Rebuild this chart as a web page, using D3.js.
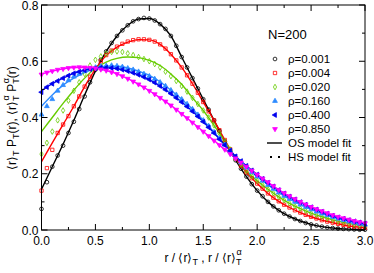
<!DOCTYPE html>
<html><head><meta charset="utf-8">
<script src="https://cdn.jsdelivr.net/npm/d3@7"></script>
<style>body{margin:0;background:#fff;} text{font-family:"Liberation Sans",Arial,sans-serif;}</style>
</head><body><svg id="c" width="374" height="273"></svg>
<script>
const xTicks = [0.0,0.5,1.0,1.5,2.0,2.5,3.0];
const yTicks = [0.0,0.2,0.4,0.6,0.8];
const seriesNames = ["ρ=0.001","ρ=0.004","ρ=0.020","ρ=0.160","ρ=0.400","ρ=0.850"];
const seriesColors = ["#000000","#ff0000","#66cc00","#2e8bff","#0000ee","#ff00ff"];
const seriesShapes = ["circle","square","diamond","triUp","triLeft","triDown"];
// fit lines: x = 0,0.1,...,3.0
const fit001 = [0.145,0.225,0.305,0.39,0.48,0.565,0.635,0.69,0.728,0.75,0.752,0.732,0.69,0.615,0.54,0.465,0.39,0.315,0.248,0.19,0.14,0.10,0.07,0.048,0.032,0.02,0.012,0.007,0.004,0.002,0.001];
const fit004 = [0.243,0.31,0.375,0.44,0.51,0.572,0.62,0.65,0.668,0.677,0.676,0.66,0.625,0.578,0.52,0.455,0.39,0.32,0.255,0.205,0.165,0.13,0.102,0.08,0.062,0.047,0.035,0.026,0.018,0.012,0.008];
const fit020 = [0.35,0.40,0.45,0.497,0.54,0.575,0.597,0.61,0.615,0.613,0.603,0.585,0.555,0.518,0.47,0.425,0.372,0.315,0.258,0.21,0.175,0.145,0.118,0.095,0.076,0.06,0.047,0.036,0.027,0.02,0.014];
const fit160 = [0.44,0.48,0.515,0.54,0.56,0.575,0.582,0.582,0.576,0.565,0.55,0.527,0.497,0.465,0.43,0.39,0.348,0.303,0.26,0.222,0.19,0.16,0.133,0.11,0.09,0.073,0.058,0.046,0.035,0.026,0.019];
const fit400 = [0.495,0.52,0.54,0.557,0.568,0.575,0.577,0.574,0.565,0.552,0.535,0.512,0.485,0.455,0.422,0.385,0.345,0.302,0.262,0.228,0.197,0.168,0.142,0.119,0.099,0.081,0.065,0.051,0.04,0.031,0.023];
const fit850 = [0.555,0.565,0.573,0.578,0.578,0.575,0.567,0.555,0.538,0.518,0.495,0.47,0.443,0.413,0.382,0.35,0.318,0.286,0.255,0.225,0.197,0.17,0.143,0.12,0.1,0.082,0.067,0.053,0.042,0.032,0.024];
// simulation symbols: x = 0,0.05,...,3.0
const sim001 = [0.075,0.17,0.225,0.265,0.30,0.345,0.385,0.43,0.475,0.525,0.57,0.605,0.635,0.665,0.69,0.71,0.728,0.742,0.75,0.754,0.752,0.745,0.732,0.715,0.69,0.655,0.615,0.578,0.54,0.503,0.465,0.428,0.39,0.352,0.315,0.28,0.248,0.218,0.19,0.163,0.14,0.12,0.10,0.084,0.07,0.058,0.048,0.039,0.032,0.025,0.02,0.016,0.012,0.009,0.007,0.005,0.004,0.003,0.002,0.001,0.001];
const sim004 = [0.14,0.22,0.285,0.345,0.375,0.405,0.44,0.475,0.51,0.545,0.575,0.60,0.622,0.638,0.652,0.662,0.67,0.675,0.678,0.678,0.676,0.67,0.66,0.645,0.625,0.603,0.578,0.55,0.52,0.488,0.455,0.422,0.39,0.355,0.32,0.287,0.255,0.228,0.205,0.184,0.165,0.147,0.13,0.115,0.102,0.09,0.08,0.07,0.062,0.054,0.047,0.041,0.035,0.03,0.026,0.022,0.018,0.015,0.012,0.01,0.008];
const sim020 = [0.27,0.31,0.35,0.39,0.425,0.46,0.495,0.525,0.555,0.585,0.605,0.617,0.627,0.633,0.635,0.633,0.628,0.622,0.615,0.608,0.60,0.59,0.578,0.563,0.547,0.53,0.512,0.492,0.47,0.448,0.425,0.40,0.372,0.344,0.315,0.286,0.258,0.233,0.21,0.192,0.175,0.16,0.145,0.131,0.118,0.106,0.095,0.085,0.076,0.068,0.06,0.053,0.047,0.041,0.036,0.031,0.027,0.023,0.02,0.017,0.014];
const sim160 = [0.41,0.44,0.465,0.495,0.515,0.532,0.545,0.555,0.565,0.572,0.578,0.582,0.584,0.585,0.583,0.58,0.575,0.57,0.563,0.555,0.547,0.537,0.525,0.512,0.497,0.481,0.465,0.448,0.43,0.41,0.39,0.37,0.348,0.326,0.303,0.281,0.26,0.24,0.222,0.205,0.19,0.175,0.16,0.146,0.133,0.121,0.11,0.10,0.09,0.081,0.073,0.065,0.058,0.052,0.046,0.04,0.035,0.03,0.026,0.022,0.019];
const sim400 = [0.49,0.508,0.52,0.53,0.54,0.549,0.557,0.563,0.568,0.572,0.575,0.577,0.577,0.576,0.574,0.57,0.565,0.559,0.552,0.544,0.535,0.524,0.512,0.499,0.485,0.47,0.455,0.439,0.422,0.404,0.385,0.365,0.345,0.323,0.302,0.282,0.262,0.245,0.228,0.212,0.197,0.182,0.168,0.155,0.142,0.13,0.119,0.109,0.099,0.09,0.081,0.073,0.065,0.058,0.051,0.045,0.04,0.035,0.031,0.027,0.023];
const sim850 = [0.553,0.56,0.565,0.57,0.573,0.576,0.578,0.579,0.578,0.577,0.575,0.571,0.567,0.561,0.555,0.547,0.538,0.528,0.518,0.507,0.495,0.483,0.47,0.457,0.443,0.428,0.413,0.398,0.382,0.366,0.35,0.334,0.318,0.302,0.286,0.27,0.255,0.24,0.225,0.211,0.197,0.183,0.17,0.156,0.143,0.131,0.12,0.11,0.1,0.091,0.082,0.074,0.067,0.06,0.053,0.047,0.042,0.037,0.032,0.028,0.024];

const fits = [fit001,fit004,fit020,fit160,fit400,fit850];
const sims = [sim001,sim004,sim020,sim160,sim400,sim850];

const svg = d3.select("#c");
const L = 41.5, R = 365, T = 5, B = 230;
const x = d3.scaleLinear().domain([0,3]).range([L,R]);
const y = d3.scaleLinear().domain([0,0.8]).range([B,T]);

const g = svg.append("g");
const line = d3.line().x(d=>x(d[0])).y(d=>y(d[1])).curve(d3.curveMonotoneX);
fits.forEach((f,i)=>{
  g.append("path").datum(f.map((v,k)=>[k*0.1,v])).attr("d",line)
    .attr("fill","none").attr("stroke",seriesColors[i]).attr("stroke-width",1.4);
});
function symPath(shape){
  if(shape==="circle") return d3.symbol(d3.symbolCircle,11)();
  if(shape==="square") return d3.symbol(d3.symbolSquare,11)();
  if(shape==="diamond") return d3.symbol(d3.symbolDiamond,9)();
  return d3.symbol(d3.symbolTriangle,10)();
}
function symRot(shape){ return shape==="triLeft"? -90 : shape==="triDown"? 180 : 0; }
function symFill(shape,c){ return (shape==="triUp"||shape==="triLeft"||shape==="triDown")? c : "none"; }
sims.forEach((s,i)=>{
  const sh = seriesShapes[i];
  g.selectAll(null).data(s.map((v,k)=>[k*0.05,v])).enter().append("path")
    .attr("d",symPath(sh))
    .attr("transform",d=>`translate(${x(d[0])},${y(d[1])}) rotate(${symRot(sh)})`)
    .attr("fill",symFill(sh,seriesColors[i])).attr("stroke",seriesColors[i]).attr("stroke-width",0.8);
});

const ax = svg.append("g").attr("stroke","#000").attr("stroke-width",1);
ax.append("rect").attr("x",L).attr("y",T).attr("width",R-L).attr("height",B-T).attr("fill","none");
const xMinor = d3.range(0,3.0001,0.25);
const yMinor = d3.range(0,0.8001,0.1);
xMinor.forEach(v=>{
  const major = xTicks.some(t=>Math.abs(t-v)<1e-6);
  const len = major?6:3;
  ax.append("line").attr("x1",x(v)).attr("x2",x(v)).attr("y1",B).attr("y2",B-len);
  ax.append("line").attr("x1",x(v)).attr("x2",x(v)).attr("y1",T).attr("y2",T+len);
});
yMinor.forEach(v=>{
  const major = yTicks.some(t=>Math.abs(t-v)<1e-6);
  const len = major?6:3;
  ax.append("line").attr("x1",L).attr("x2",L+len).attr("y1",y(v)).attr("y2",y(v));
  ax.append("line").attr("x1",R).attr("x2",R-len).attr("y1",y(v)).attr("y2",y(v));
});
svg.append("g").selectAll("text").data(xTicks).enter().append("text")
  .attr("x",d=>x(d)).attr("y",B+15).attr("text-anchor","middle").attr("font-size",12).text(d=>d.toFixed(1));
svg.append("g").selectAll("text").data(yTicks).enter().append("text")
  .attr("x",L-3).attr("y",d=>y(d)+4.5).attr("text-anchor","end").attr("font-size",12).text(d=>d.toFixed(1));

const xt = svg.append("text").attr("x",203).attr("y",262).attr("text-anchor","middle").attr("font-size",12);
xt.append("tspan").text("r / \u27E8r\u27E9");
xt.append("tspan").attr("font-size",9).attr("dy",3).text("T");
xt.append("tspan").attr("dy",-3).text(" ,  r / \u27E8r\u27E9");
xt.append("tspan").attr("font-size",9).attr("dy",3).text("T");
xt.append("tspan").attr("font-size",9).attr("dy",-10).attr("dx",-5).text("\u03B1");

const yt = svg.append("text").attr("transform","translate(16,118) rotate(-90)").attr("text-anchor","middle").attr("font-size",12);
yt.append("tspan").text("\u27E8r\u27E9");
yt.append("tspan").attr("font-size",9).attr("dy",3).text("T");
yt.append("tspan").attr("dy",-3).text(" P");
yt.append("tspan").attr("font-size",9).attr("dy",3).text("T");
yt.append("tspan").attr("dy",-3).text("(r),  \u27E8r\u27E9");
yt.append("tspan").attr("font-size",9).attr("dy",3).text("T");
yt.append("tspan").attr("font-size",9).attr("dy",-10).attr("dx",-5).text("\u03B1");
yt.append("tspan").attr("dy",7).text(" P");
yt.append("tspan").attr("font-size",9).attr("dy",3).text("T");
yt.append("tspan").attr("font-size",9).attr("dy",-10).attr("dx",-5).text("\u03B1");
yt.append("tspan").attr("dy",7).text("(r)");

svg.append("text").attr("x",268).attr("y",39).attr("font-size",13).text("N=200");
const ly0 = 59, dy = 14;
seriesNames.forEach((n,i)=>{
  const sh = seriesShapes[i];
  svg.append("path").attr("d",symPath(sh))
    .attr("transform",`translate(275,${ly0+i*dy}) rotate(${symRot(sh)})`)
    .attr("fill",symFill(sh,seriesColors[i])).attr("stroke",seriesColors[i]).attr("stroke-width",0.8);
  svg.append("text").attr("x",288).attr("y",ly0+i*dy+4).attr("font-size",11.5).text(n);
});
const yOS = ly0+6*dy, yHS = ly0+7*dy;
svg.append("line").attr("x1",267).attr("x2",282).attr("y1",yOS).attr("y2",yOS).attr("stroke","#000").attr("stroke-width",1.4);
svg.append("text").attr("x",288).attr("y",yOS+4).attr("font-size",11.5).text("OS model fit");
svg.append("line").attr("x1",270).attr("x2",282).attr("y1",yHS).attr("y2",yHS).attr("stroke","#000").attr("stroke-width",2).attr("stroke-dasharray","2,6");
svg.append("text").attr("x",288).attr("y",yHS+4).attr("font-size",11.5).text("HS model fit");
</script></body></html>
